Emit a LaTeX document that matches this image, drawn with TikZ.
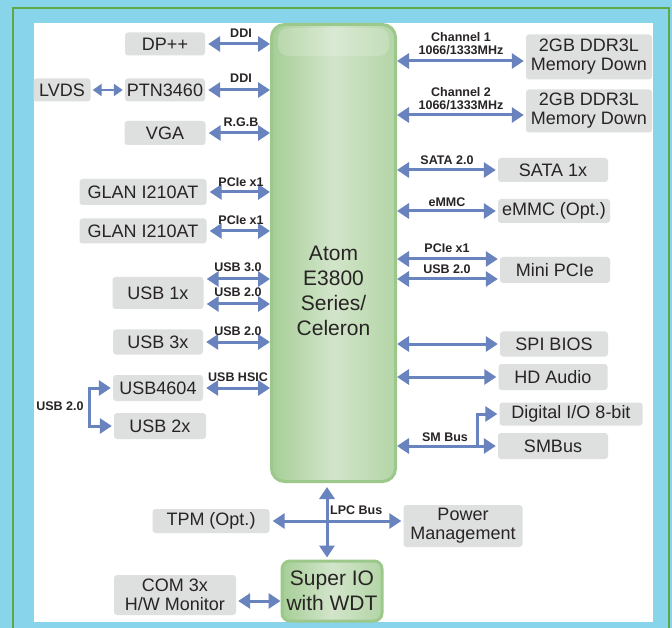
\documentclass[tikz,border=0pt]{standalone}
\usepackage{fontspec}
\setmainfont{Liberation Sans}
\usetikzlibrary{arrows.meta,positioning,calc}
\definecolor{bgblue}{RGB}{136,212,234}
\definecolor{rimgreen}{RGB}{96,168,68}
\definecolor{boxgrey}{RGB}{222,223,223}
\definecolor{linkblue}{RGB}{104,131,190}
\definecolor{chipedge}{RGB}{156,201,139}
\definecolor{chipdark}{RGB}{166,206,151}
\definecolor{chiplight}{RGB}{210,229,202}
\definecolor{inktext}{RGB}{40,36,36}

\tikzset{
  part/.style={fill=boxgrey, rounded corners=3pt, text=inktext, inner sep=0pt,
    font=\fontsize{18}{19}\selectfont, align=center},
  chip/.style={draw=chipedge, line width=3pt, rounded corners=13pt,
    left color=chipdark, right color=chipdark!70!chiplight, middle color=chiplight},
  chiptext/.style={text=inktext, font=\fontsize{21}{25}\selectfont, align=center, inner sep=0pt},
  bus/.style={text=inktext, font=\bfseries\fontsize{12.5}{13}\selectfont, align=center, inner sep=0pt},
  link/.style={draw=linkblue, line width=3pt,
    {Triangle[length=12pt,width=15pt]}-{Triangle[length=12pt,width=15pt]}},
  link small/.style={draw=linkblue, line width=2.2pt,
    {Triangle[length=9pt,width=12pt]}-{Triangle[length=9pt,width=12pt]}},
  feed/.style={draw=linkblue, line width=3pt, -{Triangle[length=12pt,width=15pt]}}
}

\begin{document}
\begin{tikzpicture}[x=1pt,y=-1pt]
\useasboundingbox (0,0) rectangle (672,628);
% Frame
\fill[bgblue] (0,0) rectangle (672,628);
\draw[rimgreen, line width=2pt] (13,628) -- (13,8) -- (669,8) -- (669,628);
\fill[white] (34,23) rectangle (653,622);

% Processor and Super IO
\node[chip, minimum width=124pt, minimum height=457pt] (soc) at (333.5,253) {};
\fill[white, opacity=0.18, rounded corners=10pt] (278,28) rectangle (389,56);
\node[chiptext] (soctext) at (333.5,291) {Atom\\E3800\\Series/\\Celeron};
\node[chip, rounded corners=8pt, minimum width=100pt, minimum height=60pt, chiptext] (sio) at (332,591) {Super IO\\with WDT};

% Peripheral boxes
\foreach \nm/\x/\y/\w/\h/\txt in {
    dp/165/44/80/23/DP++,
    lvds/62/90/57/23/LVDS,
    ptn/165/90/80/23/PTN3460,
    vga/165/133/81/24/VGA,
    glan1/143/192/127/26/GLAN I210AT,
    glan2/143/231/127/25/GLAN I210AT,
    usb1/158/293/91/32/USB 1x,
    usb3/158/342/90/25/USB 3x,
    usb4604/158/388/90/26/USB4604,
    usb2x/160/426/92/26/USB 2x,
    mem1/589/57/126/45/2GB DDR3L\\Memory Down,
    mem2/589/111/126/43/2GB DDR3L\\Memory Down,
    sata/553/170/110/24/SATA 1x,
    emmc/554/211/112/24/eMMC (Opt.),
    minipcie/555/270/110/26/Mini PCIe,
    spi/554/344/108/25/SPI BIOS,
    hda/553/377/109/26/HD Audio,
    smbus/553/446/110/26/SMBus,
    tpm/211/521/117/24/TPM (Opt.),
    pwr/463/526/119/42/Power\\Management
} {
    \node[part, minimum width=\w pt, minimum height=\h pt] (\nm) at (\x,\y) {\txt};
}
\node[part, minimum width=143pt, minimum height=23pt] (dio) at (571,414) {Digital I/O 8-bit};
\node[part, minimum width=122pt, minimum height=40pt] (com) at (175,595) {COM 3x\\H/W Monitor};

% Left links
\foreach \nm in {dp,ptn,vga,glan1,glan2,usb3,usb4604}
    \draw[link] ([xshift=3pt]\nm.east) -- (\nm.east -| soc.west);
\draw[link] ($(usb1.east)+(3,-14)$) -- ($(usb1.east -| soc.west)+(0,-14)$);
\draw[link] ($(usb1.east)+(3,11)$) -- ($(usb1.east -| soc.west)+(0,11)$);
\draw[link small] ([xshift=2pt]lvds.east) -- ([xshift=-2pt]ptn.west);

% USB 2.0 split
\coordinate (usbsplit) at (89,406);
\draw[feed] (usbsplit) |- ([xshift=-2pt]usb4604.west);
\draw[feed] (usbsplit) |- ([xshift=-2pt]usb2x.west);

% Right links
\foreach \nm in {sata,emmc,spi,hda,smbus}
    \draw[link] (\nm.west -| soc.east) -- ([xshift=-2pt]\nm.west);
\foreach \nm in {mem1,mem2}
    \draw[link] ($(\nm.west -| soc.east)+(0,4)$) -- ($(\nm.west)+(-2,4)$);
\draw[link] ($(minipcie.west -| soc.east)+(0,-11)$) -- ($(minipcie.west)+(-2,-11)$);
\draw[link] ($(minipcie.west -| soc.east)+(0,9)$) -- ($(minipcie.west)+(-2,9)$);

% SM Bus split
\coordinate (smbsplit) at (477,446);
\draw[feed] (smbsplit) |- ([xshift=-2pt]dio.west);

% LPC bus
\coordinate (lpc) at (327,521);
\draw[link] ($(soc.south -| lpc)+(0,4)$) -- ($(sio.north -| lpc)+(0,-2)$);
\draw[link] ([xshift=3pt]tpm.east) -- ([xshift=-2pt]tpm.east -| pwr.west);
\draw[link] ($(com.east)+(2,6)$) -- ($(com.east -| sio.west)+(0,6)$);

% Bus labels
\foreach \x/\y/\t [count=\i] in {
    241/33/DDI, 241/78/DDI, 241/122/R.G.B, 241/182/PCIe x1, 241/220/PCIe x1,
    238/267/USB 3.0, 238/292/USB 2.0, 238/331/USB 2.0, 238/377/USB HSIC, 60/406/USB 2.0,
    447/160/SATA 2.0, 447/202/eMMC, 447/248/PCIe x1, 447/269/USB 2.0,
    445/437/SM Bus, 358/510/LPC Bus
} {
    \node[bus] (bus\i) at (\x,\y) {\t};
}
\node[bus] (chan1) at (461,44) {Channel 1\\1066/1333MHz};
\node[bus] (chan2) at (461,99) {Channel 2\\1066/1333MHz};
\end{tikzpicture}
\end{document}
